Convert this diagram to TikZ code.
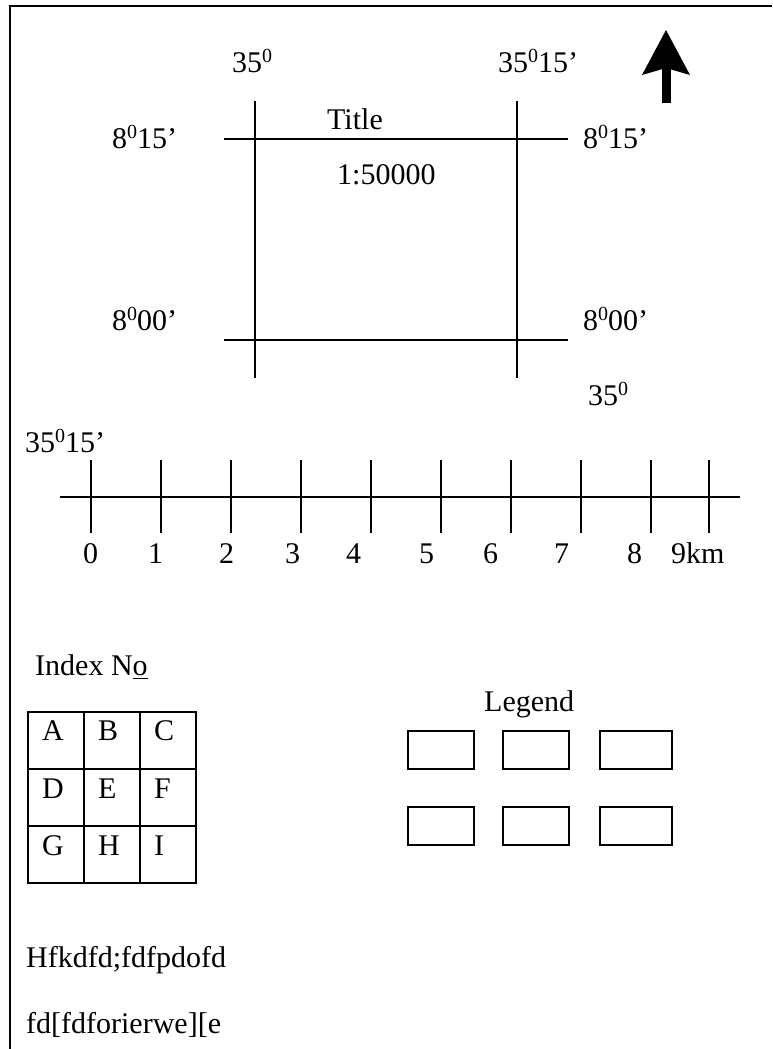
\documentclass[tikz,border=0pt]{standalone}
\usepackage{fontspec}
\setmainfont{Liberation Serif}
\newcommand\dg{\raisebox{0.33em}{\fontsize{20}{20}\selectfont 0}}
\newcommand\ulo{\setbox0\hbox{o}\rlap{\rule[-4pt]{\wd0}{1.5pt}}o}
\begin{document}
\begin{tikzpicture}[x=1pt,y=-1pt,
  txt/.style={inner sep=0pt,anchor=base west,font=\fontsize{30}{36}\selectfont},
  ln/.style={line width=2pt},
  cellbox/.style={draw,line width=2pt,minimum width=56pt,minimum height=57pt,inner sep=0pt,anchor=north west},
  legbox/.style={draw,line width=2pt,inner sep=0pt,anchor=north west}]
\useasboundingbox (0,0) rectangle (772,1049);
% frame
\coordinate (fbl) at (10,1049);
\coordinate (ftl) at (10,6);
\coordinate (ftr) at (772,6);
\draw[line width=2.4pt] (fbl) -- (ftl) -- (ftr);
% north arrow
\coordinate (ab) at (666,103);
\coordinate (at) at (666,66);
\draw[line width=9pt] (ab) -- (at);
\fill (666,30) -- (690,75) -- (666,68) -- (642,75) -- cycle;
% map lines
\coordinate (v1t) at (255,101); \coordinate (v1b) at (255,378);
\coordinate (v2t) at (517,101); \coordinate (v2b) at (517,378);
\coordinate (h1l) at (224,139); \coordinate (h1r) at (568,139);
\coordinate (h2l) at (224,340); \coordinate (h2r) at (568,340);
\draw[ln] (v1t) -- (v1b);
\draw[ln] (v2t) -- (v2b);
\draw[ln] (h1l) -- (h1r);
\draw[ln] (h2l) -- (h2r);
% map labels
\node[txt] (l1) at (232,72) {35\dg};
\node[txt] (l2) at (498,72) {35\dg15’};
\node[txt] (l3) at (112,148) {8\dg15’};
\node[txt] (l4) at (583,148) {8\dg15’};
\node[txt] (l5) at (112,330) {8\dg00’};
\node[txt] (l6) at (583,330) {8\dg00’};
\node[txt] (l7) at (588,405) {35\dg};
\node[txt] (l8) at (25,452) {35\dg15’};
\node[txt] (title) at (327,129) {Title};
\node[txt] (scale) at (337,184) {1:50000};
% scale bar
\coordinate (sbl) at (60,497); \coordinate (sbr) at (740,497);
\draw[ln] (sbl) -- (sbr);
\foreach \x in {91,161,231,301,371,441,511,581,651,709}{
  \draw[ln] (\x,460) -- (\x,533);
}
\foreach \x/\t [count=\i] in {83/0,148/1,219/2,285/3,346/4,419/5,483/6,554/7,627/8,671/9km}{
  \node[txt] (s\i) at (\x,563) {\t};
}
% index
\node[txt] (idx) at (35,675) {Index N\ulo};
\foreach \r/\y in {0/711,1/768,2/825}{
  \foreach \c/\x in {0/27,1/83,2/139}{
    \node[cellbox] (c\r\c) at (\x,\y) {};
  }
}
\foreach \t/\x/\y in {A/42/740,B/98/740,C/154/740,D/42/798,E/98/798,F/154/798,G/42/855,H/98/855,I/154/855}{
  \node[txt] (t\t) at (\x,\y) {\t};
}
% legend
\node[txt] (leg) at (484,711) {Legend};
\foreach \y [count=\r] in {730,806}{
  \node[legbox,minimum width=66pt,minimum height=38pt] (b\r a) at (407,\y) {};
  \node[legbox,minimum width=66pt,minimum height=38pt] (b\r b) at (502,\y) {};
  \node[legbox,minimum width=72pt,minimum height=38pt] (b\r c) at (599,\y) {};
}
% notes
\node[txt] (n1) at (26,967) {Hfkdfd;fdfpdofd};
\node[txt] (n2) at (26,1033) {fd[fdforierwe][e};
\end{tikzpicture}
\end{document}
